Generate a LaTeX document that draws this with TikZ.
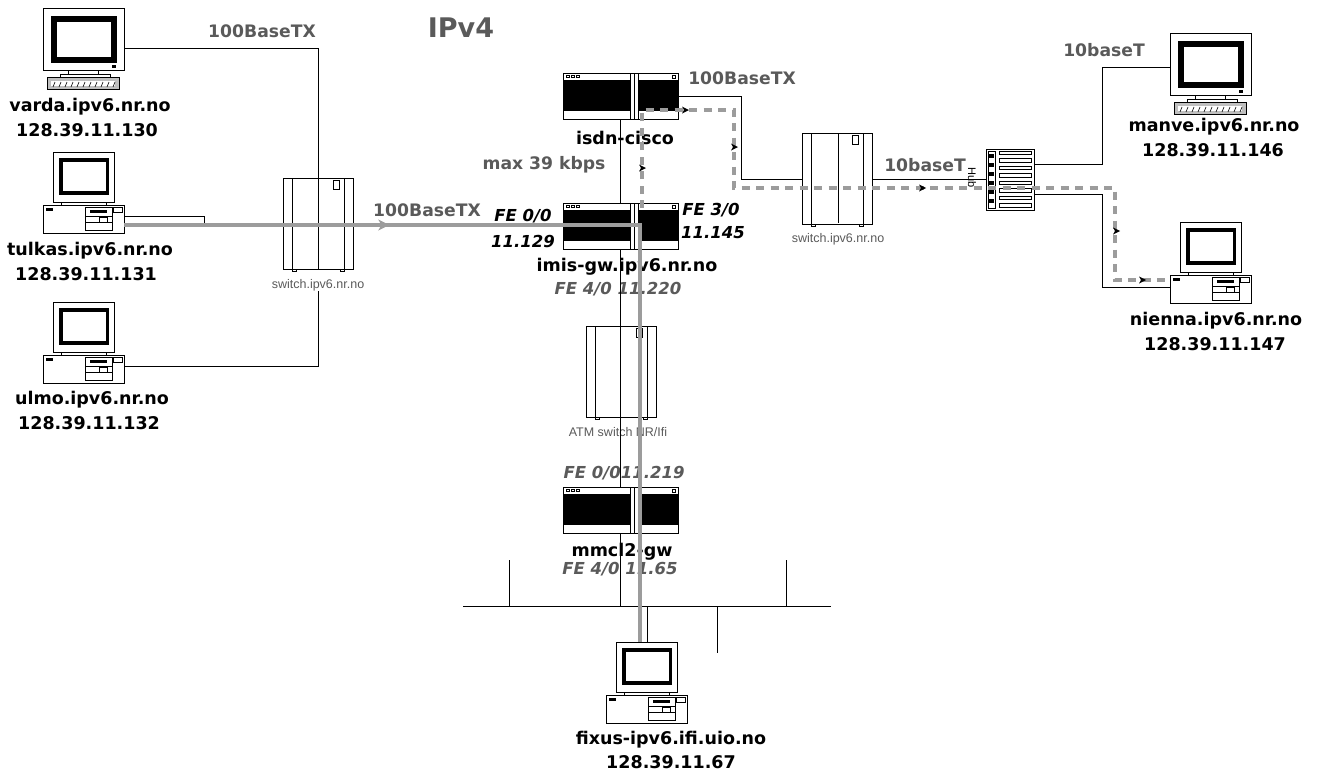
\documentclass[tikz,border=0pt]{standalone}
\usepackage{fontspec}
\setmainfont{DejaVu Sans}
\setsansfont{Liberation Sans}
\usetikzlibrary{arrows.meta,positioning}

\definecolor{wiregray}{HTML}{9C9C9C}
\definecolor{labelgray}{HTML}{5A5A5A}

\tikzset{
    devbox/.style={inner sep=0pt, outer sep=0pt},
    hostlabel/.style={font=\fontsize{17.5}{20}\selectfont\bfseries, align=center, inner sep=0pt},
    linklabel/.style={font=\fontsize{17.2}{20}\selectfont\bfseries, text=labelgray, inner sep=0pt},
    portlabel/.style={font=\fontsize{16.5}{19}\selectfont\bfseries\itshape, inner sep=0pt},
    swlabel/.style={font=\fontsize{12.5}{14}\sffamily\selectfont, text=labelgray, inner sep=0pt},
    thinwire/.style={line width=0.9pt},
    mainroute/.style={line width=3.8pt, wiregray},
    dashroute/.style={line width=3.6pt, wiregray, dash pattern=on 8pt off 6.5pt},
    pics/crtstation/.style={code={
        \draw[line width=0.7pt] (0,0) rectangle (81,62);
        \fill (8,8) rectangle (74,55);
        \fill[white] (14,14) rectangle (68,49);
        \fill (69,57) rectangle (73,60);
        \draw[line width=0.7pt] (25,62) rectangle (55,66);
        \draw[line width=0.7pt] (17,66) rectangle (67,69);
        \draw[line width=0.7pt, fill=gray!50] (4,69) rectangle (76,81);
        \fill[white] (8,73) rectangle (72,78);
        \foreach \k in {10,16,...,70} {\draw[line width=0.6pt] (\k,79) -- (\k+2,74);}
    }},
    pics/towerstation/.style={code={
        \draw[line width=0.7pt] (10,0) rectangle (71,50);
        \fill (16,6) rectangle (66,43);
        \fill[white] (20,10) rectangle (63,39);
        \draw[line width=0.7pt] (18,50) rectangle (63,53);
        \draw[line width=0.7pt] (0,53) rectangle (81,81);
        \fill (3,56) rectangle (10,59);
        \draw[line width=0.7pt] (42,55) rectangle (69,78);
        \fill (47,58) rectangle (64,61);
        \draw[line width=0.5pt] (42,64) -- (69,64) (42,70) -- (69,70);
        \draw[line width=0.5pt] (56,65) rectangle (64,70);
        \draw[line width=0.7pt] (70,55) rectangle (79,60);
    }},
    pics/cabinet/.style={code={
        \draw[line width=0.7pt] (0,0) rectangle (70,91);
        \draw[line width=0.7pt] (9,0) -- (9,91) (61,0) -- (61,91);
        \draw[line width=0.7pt] (50,2) rectangle (56,11);
        \draw[line width=0.7pt] (9,91) rectangle (13,93) (57,91) rectangle (61,93);
    }},
    pics/router/.style={code={
        \draw[line width=0.8pt, fill=white] (0,0) rectangle (115,46);
        \fill (0,7) rectangle (115,38);
        \draw[line width=0.6pt, fill=white] (67,0) rectangle (75,46);
        \draw[line width=0.6pt] (71,0) -- (71,46);
        \draw[line width=0.6pt] (3,2) rectangle (6,4) (8,2) rectangle (11,4) (13,2) rectangle (16,4);
        \draw[line width=0.7pt] (109,2) rectangle (112,5);
    }},
    pics/hubbox/.style={code={
        \draw[line width=0.8pt, fill=white] (0,0) rectangle (48,61);
        \draw[line width=0.6pt] (2,2) rectangle (9,59);
        \foreach \k in {5,14,...,52} {\fill (3,\k) rectangle (8,\k+4);}
        \foreach \k in {2,9.5,...,55} {\draw[line width=0.6pt] (13,\k) rectangle (45,\k+3.5);}
    }},
    pics/smalltip/.style={code={
        \fill (-3,-3.5) -- (4,0) -- (-3,3.5) -- (-1,0) -- cycle;
    }}
}

\begin{document}
\begin{tikzpicture}[x=1pt, y=-1pt, >=Stealth]
    \useasboundingbox (0,0) rectangle (1324,772);

    % Device boxes, used as anchors for the wires
    \node[devbox, minimum width=81pt, minimum height=81pt] (varda) at (83.5,48.5) {};
    \node[devbox, minimum width=81pt, minimum height=81pt] (tulkas) at (83.5,192.5) {};
    \node[devbox, minimum width=81pt, minimum height=81pt] (ulmo) at (83.5,342.5) {};
    \node[devbox, minimum width=81pt, minimum height=81pt] (manve) at (1210.5,73.5) {};
    \node[devbox, minimum width=81pt, minimum height=81pt] (nienna) at (1210.5,262.5) {};
    \node[devbox, minimum width=81pt, minimum height=81pt] (fixus) at (646.5,682.5) {};
    \node[devbox, minimum width=70pt, minimum height=91pt] (switchA) at (318,223.5) {};
    \node[devbox, minimum width=70pt, minimum height=91pt] (switchB) at (837,178.5) {};
    \node[devbox, minimum width=70pt, minimum height=91pt] (atm) at (620.5,371.5) {};
    \node[devbox, minimum width=115pt, minimum height=46pt] (isdn) at (620.5,96) {};
    \node[devbox, minimum width=115pt, minimum height=46pt] (imis) at (620.5,225.5) {};
    \node[devbox, minimum width=115pt, minimum height=46pt] (mmcl) at (620.5,510) {};
    \node[devbox, minimum width=48pt, minimum height=61pt] (hub) at (1010,179.5) {};

    % Host names
    \node[hostlabel] (vardaname) at (90,107) {varda.ipv6.nr.no};
    \node[hostlabel] (vardaip) at (87,130) {128.39.11.130};
    \node[hostlabel] (tulkasname) at (90,251) {tulkas.ipv6.nr.no};
    \node[hostlabel] (tulkasip) at (86,274) {128.39.11.131};
    \node[hostlabel] (ulmoname) at (92,400) {ulmo.ipv6.nr.no};
    \node[hostlabel] (ulmoip) at (89,423) {128.39.11.132};
    \node[hostlabel] (manvename) at (1214,127) {manve.ipv6.nr.no};
    \node[hostlabel] (manveip) at (1213,150) {128.39.11.146};
    \node[hostlabel] (niennaname) at (1216,321) {nienna.ipv6.nr.no};
    \node[hostlabel] (niennaip) at (1215,344) {128.39.11.147};
    \node[hostlabel] (fixusname) at (671,740) {fixus-ipv6.ifi.uio.no};
    \node[hostlabel] (fixusip) at (671,762) {128.39.11.67};
    \node[hostlabel] (isdnname) at (625,138) {isdn-cisco};
    \node[hostlabel] (imisname) at (627,267) {imis-gw.ipv6.nr.no};
    \node[hostlabel] (mmclname) at (622,552) {mmcl2-gw};

    % Link and port labels
    \node[linklabel, font=\fontsize{27}{30}\selectfont\bfseries] (title) at (461,28) {IPv4};
    \node[linklabel] (linkA) at (262,31) {100BaseTX};
    \node[linklabel] (linkB) at (742,78) {100BaseTX};
    \node[linklabel] (linkC) at (427,210) {100BaseTX};
    \node[linklabel] (linkD) at (925,165) {10baseT};
    \node[linklabel] (linkE) at (1104,50) {10baseT};
    \node[linklabel] (speed) at (544,165) {max 39 kbps};
    \node[portlabel] (feA) at (523,216) {FE 0/0};
    \node[portlabel] (ipA) at (523,241) {11.129};
    \node[portlabel] (feB) at (711,210) {FE 3/0};
    \node[portlabel] (ipB) at (713,233) {11.145};
    \node[portlabel, text=labelgray] (feC) at (618,289) {FE 4/0 11.220};
    \node[portlabel, text=labelgray] (feD) at (624,473) {FE 0/011.219};
    \node[portlabel, text=labelgray] (feE) at (620,569) {FE 4/0 11.65};
    \node[swlabel] (switchAname) at (318,285) {switch.ipv6.nr.no};
    \node[swlabel] (switchBname) at (838,239) {switch.ipv6.nr.no};
    \node[swlabel] (atmname) at (618,432) {ATM switch NR/Ifi};
    \node[font=\fontsize{11}{11}\sffamily\selectfont, rotate=-90, inner sep=0pt] (hubname) at (972,178) {Hub};

    % Named ends of the wires
    \coordinate (vardaport) at (124,48);
    \coordinate (tulkasport) at (124,216);
    \coordinate (ulmoport) at (124,366);
    \coordinate (tulkasdrop) at (204,224);
    \coordinate (manveport) at (1170,67);
    \coordinate (niennaport) at (1170,287);
    \coordinate (hubportA) at (1034,164);
    \coordinate (hubportB) at (1034,194);
    \coordinate (switchBport) at (802,179);
    \coordinate (switchBout) at (872,179);
    \coordinate (hubin) at (986,179);
    \coordinate (busleft) at (463,606.5);
    \coordinate (busright) at (831,606.5);
    \coordinate (busA) at (509,606.5);
    \coordinate (busB) at (786,606.5);
    \coordinate (busC) at (717,606.5);
    \coordinate (busD) at (647,606.5);
    \coordinate (busE) at (620.5,606.5);
    \coordinate (stubA) at (509,560);
    \coordinate (stubB) at (786,560);
    \coordinate (stubC) at (717,653);
    \coordinate (fixusport) at (647,642);

    % Thin wires
    \draw[thinwire] (vardaport) -| (switchA.north);
    \draw[thinwire] (switchA.north) -- (switchA.south);
    \draw[thinwire] (switchAname.south -| switchA.south) -- (318,366) -- (ulmoport);
    \draw[thinwire] (tulkasport) -- (204,216) -- (tulkasdrop);
    \draw[thinwire] (isdn.south) -- (imis.north);
    \draw[thinwire] (imis.south) -- (atm.north);
    \draw[thinwire] (atm.north) -- (atm.south);
    \draw[thinwire] (atm.south) -- (mmcl.north);
    \draw[thinwire] (mmcl.south) -- (busE);
    \draw[thinwire] (isdn.east) -- (741,96) -- (741,179) -- (switchBport);
    \draw[thinwire] (switchB.north) ++(1,0) -- (838,223);
    \draw[thinwire] (switchBout) -- (hubin);
    \draw[thinwire] (hubportA) -- (1102,164) -- (1102,67) -- (manveport);
    \draw[thinwire] (hubportB) -- (1102,194) -- (1102,287) -- (niennaport);
    \draw[thinwire] (busleft) -- (busright);
    \draw[thinwire] (stubA) -- (busA);
    \draw[thinwire] (stubB) -- (busB);
    \draw[thinwire] (busC) -- (stubC);
    \draw[thinwire] (busD) -- (fixusport);

    % Device pictures
    \pic at (43,8) {crtstation};
    \pic at (1170,33) {crtstation};
    \pic at (43,152) {towerstation};
    \pic at (43,302) {towerstation};
    \pic at (1170,222) {towerstation};
    \pic at (606,642) {towerstation};
    \pic at (283,178) {cabinet};
    \pic at (802,133) {cabinet};
    \pic at (586,326) {cabinet};
    \pic at (563,73) {router};
    \pic at (563,203) {router};
    \pic at (563,487) {router};
    \pic at (986,149) {hubbox};

    % Routes through the network
    \coordinate (routestart) at (124,225);
    \coordinate (routebend) at (640,225);
    \coordinate (routeend) at (640,642);
    \draw[mainroute] (routestart) -- (routebend) -- (routeend);
    \pic[wiregray, scale=1.6] at (383,225) {smalltip};
    \coordinate (dashstart) at (642,208);
    \coordinate (dashend) at (1170,280);
    \draw[dashroute] (dashstart) -- (642,110) -- (734,110) -- (734,188) -- (1115,188) -- (1115,280) -- (dashend);
    \pic at (642,168) {smalltip};
    \pic at (685,110) {smalltip};
    \pic at (734,147) {smalltip};
    \pic at (922,188) {smalltip};
    \pic at (1116,231) {smalltip};
    \pic at (1142,280) {smalltip};
\end{tikzpicture}
\end{document}
